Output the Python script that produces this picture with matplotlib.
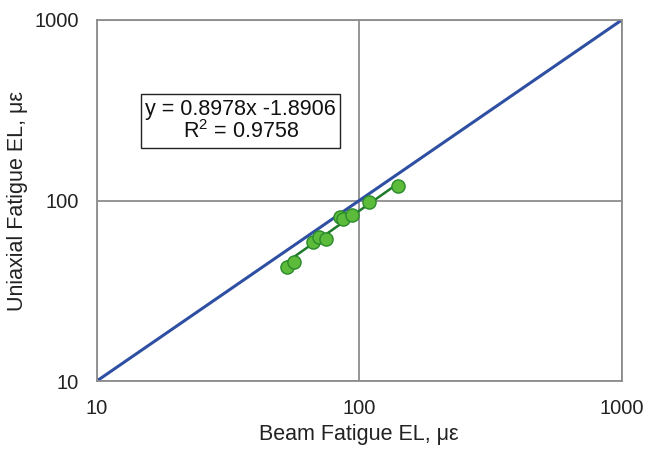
import matplotlib
matplotlib.use("Agg")
import matplotlib.pyplot as plt
import numpy as np

# beam vs uniaxial fatigue endurance limits (microstrain)
beam_el = [53.1, 56.4, 66.5, 70.3, 74.5, 84.3, 86.5, 94.2, 108.6, 140.0]
uniaxial_el = [42.7, 45.8, 58.9, 63.0, 61.2, 81.3, 78.5, 83.1, 98.5, 120.0]
slope, intercept = 0.8978, -1.8906
r2 = 0.9758
equality = [10, 1000]

plt.rcParams['font.family'] = ['Liberation Sans', 'DejaVu Sans']

fig = plt.figure(figsize=(6.45, 4.49), dpi=100)
ax = fig.add_axes([0.150, 0.1514, 0.814, 0.8041])

ax.plot(equality, equality, color='#2f4fa3', linewidth=2.2, zorder=2)

xf = np.array([min(beam_el), max(beam_el)])
ax.plot(xf, slope * xf + intercept, color='#1e7a2a', linewidth=1.8, zorder=3)
ax.scatter(beam_el, uniaxial_el, s=90, color='#5dbb3c', edgecolors='#2a8a2a',
           linewidths=1.0, zorder=4)

ax.set_xscale('log')
ax.set_yscale('log')
ax.set_xlim(10, 1000)
ax.set_ylim(10, 1000)
ax.minorticks_off()
ax.set_xticks([10, 100, 1000])
ax.set_yticks([10, 100, 1000])
ax.set_xticklabels(['10', '100', '1000'])
ax.set_yticklabels(['10', '100', '1000'])
ax.tick_params(length=0, labelsize=14.5, colors='#222222')
ax.tick_params(axis='y', pad=13)
ax.tick_params(axis='x', pad=13)
ax.grid(True, color='#8c8c8c', linewidth=1.3)
ax.set_axisbelow(True)
for s in ax.spines.values():
    s.set_color('#8c8c8c')
    s.set_linewidth(1.3)

ax.set_xlabel('Beam Fatigue EL, με', fontsize=15.5, color='#222222', va='baseline')
ax.xaxis.set_label_coords(0.5, -0.163)
ax.set_ylabel('Uniaxial Fatigue EL, με', fontsize=15.5, color='#222222', va='center')
ax.yaxis.set_label_coords(-0.150, 0.5)

ax.text(0.274, 0.72, 'y = 0.8978x -1.8906\n$\\mathregular{R^2}$ = %.4f' % r2,
        transform=ax.transAxes, ha='center', va='center', fontsize=15.5,
        linespacing=1.05, color='#111111',
        bbox=dict(boxstyle='square,pad=0.2', facecolor='white', edgecolor='#222222', linewidth=1.0))

fig.savefig('out.png', dpi=100)
